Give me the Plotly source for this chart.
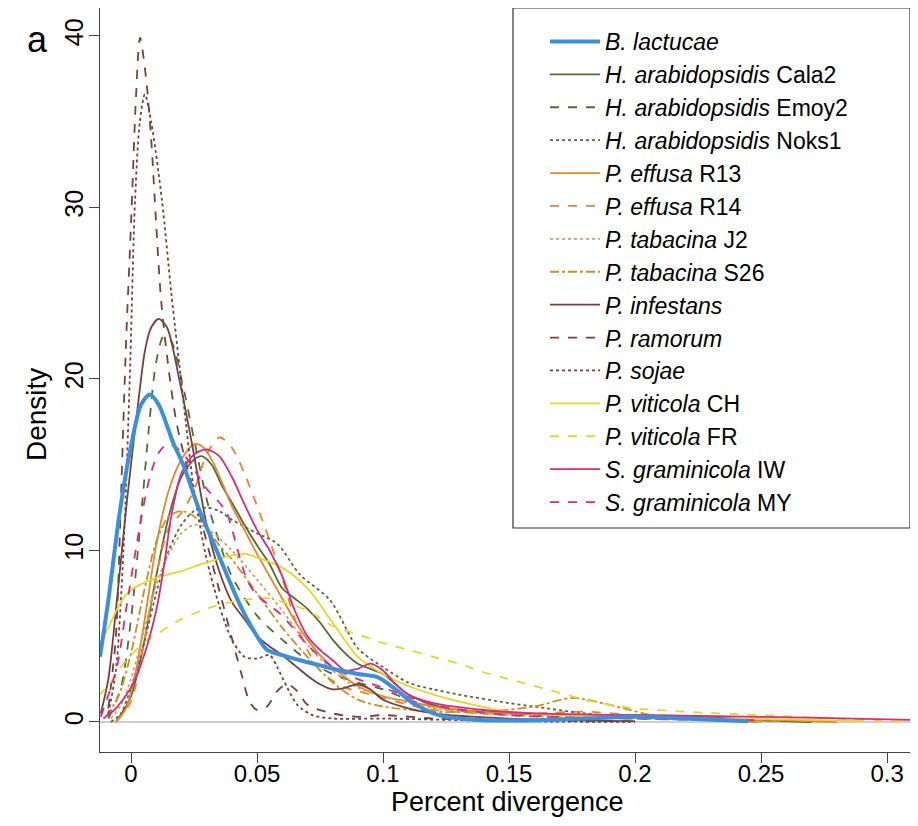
import plotly.graph_objects as go

# ---------------- data ----------------
names = [
    "<i>B. lactucae</i>",
    "<i>H. arabidopsidis</i> Cala2",
    "<i>H. arabidopsidis</i> Emoy2",
    "<i>H. arabidopsidis</i> Noks1",
    "<i>P. effusa</i> R13",
    "<i>P. effusa</i> R14",
    "<i>P. tabacina</i> J2",
    "<i>P. tabacina</i> S26",
    "<i>P. infestans</i>",
    "<i>P. ramorum</i>",
    "<i>P. sojae</i>",
    "<i>P. viticola</i> CH",
    "<i>P. viticola</i> FR",
    "<i>S. graminicola</i> IW",
    "<i>S. graminicola</i> MY",
]

bl_x = [-0.0123, -0.009, -0.0044, 0.0, 0.004, 0.0075, 0.011, 0.0167, 0.021, 0.027, 0.034, 0.043, 0.05, 0.054, 0.06, 0.067, 0.075, 0.083, 0.09, 0.098, 0.105, 0.112, 0.12, 0.125, 0.14, 0.16, 0.18, 0.2, 0.22, 0.245]
bl_y = [3.8, 7.1, 12.3, 16.1, 18.5, 19.1, 18.5, 16.3, 14.9, 12.4, 10.0, 6.9, 5.0, 4.2, 3.9, 3.6, 3.3, 3.0, 2.8, 2.6, 1.9, 1.1, 0.5, 0.3, 0.1, 0.1, 0.2, 0.3, 0.2, 0.05]

cala_x = [-0.006, 0, 0.005, 0.01, 0.015, 0.02, 0.025, 0.028, 0.032, 0.036, 0.04, 0.045, 0.05, 0.055, 0.06, 0.065, 0.07, 0.075, 0.08, 0.085, 0.09, 0.1, 0.105, 0.11, 0.12, 0.13, 0.15, 0.18, 0.2, 0.22, 0.25, 0.27]
cala_y = [0, 1.5, 4.5, 8.5, 12.0, 14.3, 15.3, 15.5, 15.0, 13.8, 12.8, 11.5, 10.3, 9.2, 7.8, 7.2, 6.6, 5.8, 4.8, 4.0, 3.4, 2.8, 2.2, 1.6, 1.0, 0.7, 0.5, 0.4, 0.4, 0.35, 0.1, 0.0]

emoy_x = [-0.009, -0.004, 0, 0.004, 0.007, 0.01, 0.013, 0.016, 0.02, 0.025, 0.03, 0.035, 0.04, 0.05, 0.06, 0.07, 0.08, 0.09, 0.1, 0.11, 0.12, 0.14, 0.17, 0.2, 0.25]
emoy_y = [0.2, 2, 6, 12, 17, 21, 22.5, 22.2, 20, 16.5, 13, 10.5, 8.5, 6.2, 4.8, 3.6, 2.8, 2.3, 1.9, 1.3, 0.9, 0.5, 0.3, 0.2, 0.05]

noks_x = [-0.008, -0.004, 0, 0.005, 0.01, 0.015, 0.02, 0.025, 0.03, 0.035, 0.04, 0.05, 0.058, 0.067, 0.079, 0.09, 0.1, 0.11, 0.12, 0.13, 0.15, 0.16, 0.18, 0.2, 0.25]
noks_y = [0, 0.5, 2, 4.5, 7.5, 10, 11.5, 12.3, 12.5, 12.3, 11.8, 11, 10.4, 8.6, 7.1, 4.3, 3.2, 2.3, 1.9, 1.6, 1.1, 0.9, 0.5, 0.3, 0.1]

r13_x = [-0.006, -0.002, 0.002, 0.006, 0.01, 0.015, 0.02, 0.025, 0.028, 0.032, 0.036, 0.04, 0.045, 0.05, 0.055, 0.06, 0.065, 0.07, 0.075, 0.08, 0.09, 0.1, 0.11, 0.12, 0.14, 0.16, 0.18, 0.2, 0.23, 0.26, 0.28]
r13_y = [0, 0.8, 3, 6.5, 10.3, 13.5, 15.3, 16.2, 16.1, 15.3, 14, 12.6, 11.2, 9.8, 8.5, 7.2, 5.9, 4.8, 3.9, 3.2, 2.1, 1.5, 1.2, 0.9, 0.6, 0.5, 0.4, 0.3, 0.2, 0.1, 0]

r14_x = [-0.006, 0, 0.005, 0.01, 0.015, 0.02, 0.025, 0.03, 0.035, 0.04, 0.045, 0.05, 0.055, 0.06, 0.065, 0.07, 0.075, 0.08, 0.085, 0.09, 0.1, 0.11, 0.12, 0.14, 0.16, 0.18, 0.2, 0.23, 0.26]
r14_y = [0, 1.2, 4.5, 8.5, 11.3, 12.2, 13.5, 15.6, 16.6, 16.0, 14.5, 12.6, 10.6, 8.4, 6.0, 4.2, 3.0, 2.4, 2.0, 1.8, 1.4, 1.0, 0.7, 0.5, 0.5, 0.6, 0.4, 0.2, 0.05]

j2_x = [-0.008, -0.004, 0, 0.005, 0.01, 0.015, 0.02, 0.025, 0.03, 0.04, 0.05, 0.06, 0.07, 0.08, 0.09, 0.1, 0.12, 0.15, 0.2, 0.25]
j2_y = [0.2, 1.0, 2.5, 5.2, 8, 9.8, 11, 11.5, 11.3, 10, 8.3, 6.5, 4.5, 3, 2, 1.5, 0.8, 0.4, 0.2, 0]

s26_x = [-0.01, -0.005, 0, 0.005, 0.01, 0.015, 0.02, 0.025, 0.03, 0.035, 0.04, 0.045, 0.05, 0.06, 0.07, 0.08, 0.09, 0.1, 0.12, 0.14, 0.16, 0.175, 0.19, 0.21, 0.23, 0.25]
s26_y = [0.3, 1.5, 4, 7.5, 10.5, 12, 12.3, 12, 11.3, 10.3, 9.5, 8.5, 7.5, 5.5, 3.8, 2.3, 1.3, 0.9, 0.6, 0.6, 0.9, 1.4, 1.0, 0.3, 0.1, 0]

inf_x = [-0.012, -0.009, -0.0056, -0.0016, 0.003, 0.0056, 0.008, 0.011, 0.0143, 0.0194, 0.0246, 0.03, 0.035, 0.04, 0.045, 0.05, 0.055, 0.06, 0.065, 0.07, 0.075, 0.08, 0.085, 0.09, 0.095, 0.1, 0.11, 0.12, 0.15, 0.2]
inf_y = [0.5, 2.5, 7.1, 12.9, 18.8, 21.7, 23.0, 23.5, 23.0, 19.8, 15.9, 11.5, 8.8, 7.0, 6.0, 5.0, 4.4, 3.9, 3.3, 2.7, 2.2, 1.9, 2.0, 2.2, 1.9, 1.3, 0.8, 0.5, 0.2, 0.05]

ram_x = [-0.009, -0.006, -0.004, -0.002, 0.0, 0.002, 0.0036, 0.006, 0.008, 0.01, 0.012, 0.015, 0.018, 0.022, 0.026, 0.03, 0.035, 0.04, 0.044, 0.047, 0.05, 0.054, 0.058, 0.062, 0.066, 0.07, 0.08, 0.09, 0.1, 0.12, 0.15, 0.2]
ram_y = [0.8, 5, 13, 22, 29, 36.5, 39.9, 37.5, 34, 29, 24.5, 20.5, 17.5, 15, 12.9, 10.5, 7.7, 4.9, 2.7, 1.2, 0.7, 0.9, 1.8, 2.2, 1.8, 1.0, 0.5, 0.3, 0.4, 0.2, 0.1, 0.05]

soj_x = [-0.009, -0.006, -0.003, -0.0005, 0.0016, 0.0035, 0.0055, 0.008, 0.0123, 0.016, 0.0206, 0.025, 0.03, 0.035, 0.04, 0.045, 0.05, 0.055, 0.058, 0.062, 0.066, 0.072, 0.08, 0.1, 0.15, 0.2]
soj_y = [0.5, 3, 10, 20, 30.4, 35, 36.6, 35, 30.4, 25, 19, 13.5, 9.5, 6.8, 4.8, 3.8, 3.7, 3.9, 3.2, 2.0, 1.0, 0.4, 0.2, 0.2, 0.05, 0]

ch_x = [-0.013, -0.008, -0.004, 0, 0.01, 0.02, 0.03, 0.04, 0.045, 0.05, 0.06, 0.07, 0.08, 0.09, 0.1, 0.11, 0.12, 0.13, 0.15, 0.17, 0.2, 0.23, 0.26, 0.29]
ch_y = [4.3, 5.8, 7.0, 7.7, 8.4, 8.8, 9.3, 9.7, 9.8, 9.6, 9.0, 7.8, 5.8, 3.8, 2.8, 2.1, 1.6, 1.2, 0.6, 0.4, 0.3, 0.2, 0.15, 0.05]

fr_x = [-0.013, -0.008, -0.004, 0, 0.005, 0.01, 0.02, 0.03, 0.04, 0.05, 0.055, 0.06, 0.07, 0.08, 0.09, 0.1, 0.11, 0.12, 0.13, 0.14, 0.15, 0.16, 0.17, 0.18, 0.19, 0.2, 0.22, 0.25, 0.28, 0.3, 0.31]
fr_y = [1.5, 2.3, 3.2, 3.9, 4.6, 5.1, 6.0, 6.6, 7.0, 7.2, 7.2, 7.0, 6.5, 5.6, 5.1, 4.6, 4.2, 3.8, 3.4, 2.9, 2.5, 2.1, 1.7, 1.3, 1.0, 0.8, 0.6, 0.4, 0.2, 0.05, 0.0]

iw_x = [-0.011, -0.006, 0, 0.005, 0.01, 0.013, 0.016, 0.02, 0.025, 0.03, 0.035, 0.04, 0.045, 0.05, 0.055, 0.06, 0.065, 0.07, 0.075, 0.08, 0.085, 0.09, 0.095, 0.1, 0.105, 0.11, 0.12, 0.14, 0.16, 0.2, 0.25, 0.3, 0.315]
iw_y = [0.2, 0.8, 2.0, 3.8, 6.5, 9.0, 12.0, 14.5, 15.6, 15.9, 15.5, 14.3, 12.7, 11.2, 10.0, 8.5, 6.5, 5.0, 4.2, 3.6, 3.0, 3.1, 3.4, 3.0, 2.2, 1.6, 1.1, 0.7, 0.5, 0.4, 0.3, 0.15, 0.1]

my_x = [-0.012, -0.0056, -0.002, 0.0036, 0.0075, 0.011, 0.0145, 0.018, 0.022, 0.026, 0.03, 0.035, 0.038, 0.042, 0.046, 0.05, 0.055, 0.06, 0.07, 0.08, 0.09, 0.1, 0.12, 0.15, 0.2, 0.25]
my_y = [0.3, 3.2, 6.5, 11.5, 14.3, 15.7, 16.2, 16.0, 15.4, 14.5, 13.6, 12.8, 12.2, 10.2, 8.3, 7.4, 6.8, 6.2, 4.5, 3.2, 2.5, 2.0, 1.0, 0.4, 0.2, 0.1]

x_ticks = [0, 0.05, 0.1, 0.15, 0.2, 0.25, 0.3]
x_ticktext = ["0", "0.05", "0.1", "0.15", "0.2", "0.25", "0.3"]
y_ticks = [0, 10, 20, 30, 40]

series_x = [bl_x, cala_x, emoy_x, noks_x, r13_x, r14_x, j2_x, s26_x, inf_x, ram_x, soj_x, ch_x, fr_x, iw_x, my_x]
series_y = [bl_y, cala_y, emoy_y, noks_y, r13_y, r14_y, j2_y, s26_y, inf_y, ram_y, soj_y, ch_y, fr_y, iw_y, my_y]

# ---------------- styles ----------------
BLUE = "#3b8fdd"
OLIVE = "#566b30"
ORANGE = "#e8842c"
TAN = "#c9a35e"
OCHRE = "#cf8e22"
BROWN = "#74413f"
YELLOW = "#e6d52a"
MAGENTA = "#d82a80"
colors = [BLUE, OLIVE, OLIVE, OLIVE, ORANGE, ORANGE, TAN, OCHRE, BROWN, BROWN, BROWN, YELLOW, YELLOW, MAGENTA, MAGENTA]
dashes = ["solid", "solid", "dash", "dot", "solid", "dash", "dot", "dashdot", "solid", "dash", "dot", "solid", "dash", "solid", "dash"]
widths = [4] + [1.8] * 14

FONT = "Liberation Sans, Arial, Helvetica, sans-serif"

# page offset: the html body has an 8px margin, so plot area spans page x 100..910, y 8..752
fig = go.Figure()
order = list(range(1, 15)) + [0]  # draw blue last so it sits on top
for i in order:
    fig.add_trace(go.Scatter(
        x=series_x[i], y=series_y[i], mode="lines", name=names[i],
        line=dict(color=colors[i], width=widths[i], dash=dashes[i], shape="spline", smoothing=0.8),
        legendrank=i + 1, cliponaxis=True,
    ))

PW, PH = 810, 744  # plot area size in px

fig.update_layout(
    width=902, height=810,
    margin=dict(l=92, r=0, t=0, b=66, autoexpand=False),
    paper_bgcolor="white", plot_bgcolor="white",
    font=dict(family=FONT, color="black"),
    legend=dict(
        x=(545 - 100) / PW, y=(752 - 20) / PH, xanchor="left", yanchor="top",
        font=dict(size=23, family=FONT, color="black"),
        bgcolor="rgba(0,0,0,0)", borderwidth=0, itemwidth=50,
    ),
    shapes=[dict(type="rect", xref="paper", yref="paper",
                 x0=(513 - 100) / PW, x1=1.0, y0=(752 - 528) / PH, y1=1.0,
                 line=dict(color="#333333", width=1.2), fillcolor="white", layer="above")],
    annotations=[
        dict(text="a", xref="paper", yref="paper",
             x=(37 - 100) / PW, y=(752 - 40) / PH, xanchor="center", yanchor="middle",
             showarrow=False, font=dict(size=36, family=FONT, color="black")),
        dict(text="Percent divergence", xref="paper", yref="paper",
             x=(507 - 100) / PW, y=(752 - 802) / PH, xanchor="center", yanchor="middle",
             showarrow=False, font=dict(size=27, family=FONT, color="black")),
        dict(text="Density", xref="paper", yref="paper", textangle=-90,
             x=(36 - 100) / PW, y=(752 - 415) / PH, xanchor="center", yanchor="middle",
             showarrow=False, font=dict(size=28, family=FONT, color="black")),
    ],
)

fig.update_xaxes(
    automargin=False,
    range=[-0.0123, 0.3091], tickvals=x_ticks, ticktext=x_ticktext,
    ticks="outside", ticklen=10, tickcolor="#444", tickwidth=1, ticklabelstandoff=-10,
    showline=True, mirror=True, linecolor="#444", linewidth=1.2,
    showgrid=False, zeroline=False,
    tickfont=dict(size=24, family=FONT, color="black"),
)
fig.update_yaxes(
    automargin=False,
    range=[-1.75, 41.63], tickvals=y_ticks, tickangle=-90,
    ticks="outside", ticklen=10, tickcolor="#444", tickwidth=1, ticklabelstandoff=-4,
    showline=True, mirror=True, linecolor="#444", linewidth=1.2,
    showgrid=False, zeroline=True, zerolinecolor="#cfcfcf", zerolinewidth=1.5,
    tickfont=dict(size=25, family=FONT, color="black"),
)

fig.write_html("out.html")
